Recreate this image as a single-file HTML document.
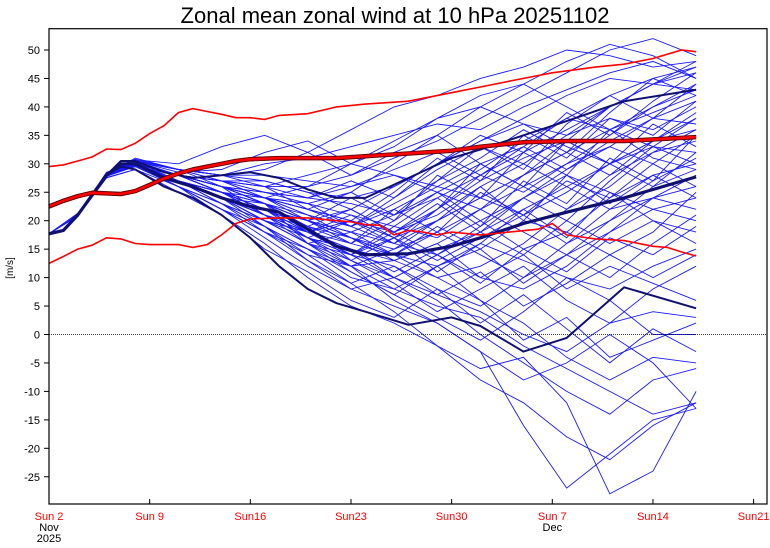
<!DOCTYPE html>
<html><head><meta charset="utf-8"><style>
body{margin:0;background:#fff;}
svg{display:block;font-family:"Liberation Sans",sans-serif;}
</style></head><body>
<svg id="chart" width="770" height="548">
<text x="395" y="23" text-anchor="middle" font-size="22" fill="#000">Zonal mean zonal wind at 10 hPa 20251102</text>
<text transform="translate(13,268) rotate(-90)" text-anchor="middle" font-size="10">[m/s]</text>
<g id="yaxis"></g>
<g id="xaxis"></g>
<g id="members"></g>
<g id="darks"></g>
<g id="reds"></g>
<rect x="49" y="28.7" width="718" height="475.3" fill="none" stroke="#000" stroke-width="1.2"/>
</svg>
<script>
const yTicks=[-25,-20,-15,-10,-5,0,5,10,15,20,25,30,35,40,45,50];
const xTickDays=[0,7,14,21,28,35,42,49];
const xTickLabels=["Sun 2","Sun 9","Sun16","Sun23","Sun30","Sun 7","Sun14","Sun21"];
const xSubLabels=[["Nov","2025"],[],[],[],[],["Dec"],[],[]];
const memberDays=[0,2,4,6,9,12,15,18,21,24,27,30,33,36,39,42,45];
const members=[
[17.7,21,28,30.5,28,26,24,22,20,18,22,28,33,38,42,45,47],
[17.7,21,28.5,30,27,24,20,16,12,8,5,3,-2,-6,-10,-14,-12],
[17.7,21.3,28,29.5,28,27,27,25,24,26,30,34,37,35,40,44,48],
[17.7,20.8,27.5,29,26,22,17,12,8,5,2,-3,-8,-5,0,-5,-13],
[17.7,21,28,30,27,25,23,20,17,15,18,22,26,30,33,30,35],
[17.7,21,28.2,31,29,28,30,31,33,35,37,36,40,43,46,48,45],
[17.7,21,27.8,30,26,22,19,15,10,8,12,16,13,10,8,12,15],
[17.7,21.2,28,29.8,27,24,21,18,14,10,6,0,-5,-10,-14,-8,-6],
[17.7,21,28,30.2,28,26,25,24,26,28,25,20,15,18,24,28,30],
[17.7,21,27.6,29,25,21,16,10,5,2,-2,-8,-12,-18,-22,-16,-12],
[17.7,21,28.3,30.5,28.5,29,32,34,30,33,38,42,44,40,36,39,42],
[17.7,21,28,30,27,23,18,14,12,13,16,20,24,28,25,22,20],
[17.7,21,28,29.5,27,24,20,16,13,9,4,8,12,6,2,4,3],
[17.7,21,28.2,30.6,29,27,24,21,19,24,29,33,30,26,22,24,28],
[17.7,21,27.8,29.5,26,23,19,15,12,15,20,26,30,35,38,36,40],
[17.7,21,28,30.2,28,25,22,18,14,12,8,5,10,16,20,24,22],
[17.7,21,28.1,30,28,27,26,26,28,32,35,30,26,22,26,32,36],
[17.7,21,28,29.8,27,24,21,17,12,6,2,-3,-16,-27,-21,-15,-13],
[17.7,21,28,30,27,23,19,14,9,4,-2,-6,-4,-12,-28,-24,-10],
[17.7,21,28.4,30.8,29,28,29,32,36,40,42,45,47,50,49,47,48],
[17.7,21,28,30,27,25,24,26,30,34,38,40,37,33,30,34,38],
[17.7,21,28,29.6,26,22,18,13,8,10,14,18,22,26,30,34,36],
[17.7,21,28.2,30.4,28,26,23,20,22,26,30,34,38,42,45,44,46],
[17.7,21,27.9,29.7,27,24,22,19,16,20,25,22,18,14,18,24,26],
[17.7,21,28,30,28,27,25,23,21,19,17,22,28,34,40,44,43],
[17.7,21,28,30.1,27,24,20,16,11,7,3,-1,4,10,6,0,0],
[17.7,21,28.2,30.3,28,26,24,23,25,30,35,40,44,48,51,49,45],
[17.7,21,28,29.9,27,25,22,19,17,14,12,15,20,18,14,10,14],
[17.7,21,28,30.2,28,25,21,17,14,17,22,27,31,34,30,26,32],
[17.7,21,28.1,30.5,29,28,27,25,22,18,14,10,8,12,18,22,24],
[17.7,21,28,29.8,27,25,23,21,19,22,26,30,33,29,33,38,41],
[17.7,21,28,30,27,24,21,18,15,13,10,6,2,-4,-8,-4,-5],
[17.7,21,28.3,30.7,30,33,35,32,28,31,34,38,42,46,50,52,49],
[17.7,21,28,30,28,26,24,22,20,17,20,24,21,25,30,33,32],
[17.7,21,28,29.7,26,23,20,18,16,14,18,14,10,14,20,26,29],
[17.7,21,28.2,30.2,28,26,25,24,23,21,25,29,34,38,36,40,44],
[17.7,21,28,30,27,25,22,20,18,16,14,19,24,29,34,38,37],
[17.7,21,28,30.3,28,26,23,20,17,14,10,12,16,22,28,32,34],
[17.7,21,28.1,30,28,27,26,28,30,28,26,24,28,32,36,33,38],
[17.7,21,28,29.9,27,24,21,17,13,10,7,4,0,-3,2,8,12],
[17.7,21,28.2,30.5,29,28,28,27,26,29,32,28,25,30,35,40,43],
[17.7,21,28,30,28,26,23,20,18,21,24,28,32,36,40,44,47],
[17.7,21,28,29.8,27,25,22,18,15,11,15,18,14,20,16,20,18],
[17.7,21,28.1,30.2,28,26,24,22,19,16,20,24,28,32,28,34,39],
[17.7,21,28,30.4,27,24,19,13,9,12,7,11,5,9,14,18,25],
[17.7,21,28.2,30.1,28,25,23,16,14,19,24,19,27,23,31,27,35],
[17.7,21,28,29.6,26,21,15,11,6,3,8,2,7,1,-5,1,-3],
[17.7,21,28.1,30.3,28,27,24,20,24,20,28,24,32,28,36,31,29],
[17.7,21,27.9,29.8,27,23,20,17,20,16,22,30,26,34,30,37,33],
[17.7,21,28,30,28,26,21,19,13,17,11,16,22,17,25,20,16],
[17.7,21,28.2,30.5,29,27,26,22,25,21,27,33,29,37,42,38,44],
[17.7,21,28,29.7,26,22,18,15,11,7,12,6,-1,3,-4,-1,2],
[17.7,21,28.1,30.2,28,25,22,20,16,22,18,25,21,27,24,30,26],
[17.7,21,28,30,27,24,23,18,20,25,31,27,35,31,38,35,41],
[17.7,21,28.2,30.4,29,26,24,21,17,13,16,10,14,8,12,9,6],
[17.7,21,28,29.9,27,24,20,18,14,18,23,18,24,20,27,33,30],
[17.7,21,28.1,30.1,28,26,23,19,22,18,21,26,20,28,23,28,24],
[17.7,21,28,30.3,28,25,22,17,15,10,14,9,15,11,17,14,19],
[17.7,21,28.2,30.6,29,28,26,24,27,24,30,35,32,39,35,41,46],
[17.7,21,28,29.8,27,24,21,16,18,14,19,15,9,14,10,16,21],
[17.7,21,28.1,30,28,26,24,23,19,23,27,31,36,32,39,45,42],
[17.7,21,28,30.2,28,25,21,18,21,17,13,17,21,16,22,27,31]
];
const statDays=[0,1,2,3,4,5,6,7,8,10,12,14,16,18,20,22,25,28,30,33,36,40,45];
const meanVals=[17.7,18.3,21,24.5,28,30,30,28.8,27.5,26,24,22.5,21.5,18.5,15.5,14,14.2,15.5,17,19.5,21.5,24,27.7];
const upperVals=[17.7,18.3,21,24.5,28,30.5,30.5,29.5,28.5,27.5,28,28.5,27.5,25.5,24,24,27.5,31,32.5,35,37.5,41,43];
const lowerVals=[17.7,18.3,21,24.5,28,29.5,29,27.5,26,24,21,17,12,8,5.5,4,1.7,3,1.5,-3,-0.6,8.3,4.6];
const climMaxDays=[0,1,2,3,4,5,6,7,8,9,10,11,12,13,14,15,16,18,20,22,25,28,30,33,35,38,40,42,44,45];
const climMaxVals=[29.5,29.8,30.5,31.2,32.6,32.5,33.6,35.3,36.7,39,39.7,39.2,38.7,38.1,38.1,37.8,38.5,38.8,40,40.5,41,42.5,43.5,45,46,47,47.5,48.5,50,49.7];
const climMeanDays=[0,1,2,3,4,5,6,7,8,9,10,11,12,13,14,16,20,23,28,30,33,36,40,45];
const climMeanVals=[22.5,23.5,24.3,24.9,24.8,24.7,25.2,26.3,27.4,28.3,29,29.5,30,30.5,30.8,31,31,31.5,32.3,33,33.8,34,34,34.7];
const climMinDays=[0,1,2,3,4,5,6,7,8,9,10,11,12,13,14,16,18,20,21,22,23,24,25,26,27,28,30,32,34,35,36,38,40,42,43,44,45];
const climMinVals=[12.5,13.7,15,15.7,17,16.8,16,15.8,15.8,15.8,15.3,15.8,17.5,19.5,20.3,20.5,20.5,20,19.8,19.3,19.2,17.5,18.3,18,17.5,18,17.5,18,18.5,19.5,17.5,16.8,16.5,15.5,15.3,14.5,13.8,14.5];

const NS="http://www.w3.org/2000/svg";
const X0=49,X1=767,Y0=28.7,Y1=504;
const xs=d=>X0+d*14.38;
const ys=v=>334.5-v*5.69;
function mk(tag,attrs,parent){const e=document.createElementNS(NS,tag);for(const k in attrs)e.setAttribute(k,attrs[k]);parent.appendChild(e);return e;}
const yg=document.getElementById('yaxis');
yTicks.forEach(t=>{
  const l=mk('line',{x1:44,x2:X0,y1:ys(t),y2:ys(t),stroke:'#000'},yg);
  
  
  const tx=mk('text',{x:40,y:ys(t)+4,'text-anchor':'end','font-size':11,fill:'#000'},yg);
  tx.textContent=t;
  
  
});
const xg=document.getElementById('xaxis');
xTickDays.forEach((d,i)=>{
  const l=mk('line',{x1:xs(d),x2:xs(d),y1:Y1,y2:Y1-5,stroke:'#000'},xg);
  
  
  const tx=mk('text',{x:xs(d),y:520,'text-anchor':'middle','font-size':11,fill:'#ff0000'},xg);
  tx.textContent=xTickLabels[i];
  
  
  xSubLabels[i].forEach((s,j)=>{
    const st=mk('text',{x:xs(d),y:531+j*11,'text-anchor':'middle','font-size':11,fill:'#000'},xg);
    st.textContent=s;
    
    
  });
});
const zl=mk('line',{x1:X0,x2:X1,y1:ys(0),y2:ys(0),stroke:'#000','stroke-width':0.8,'stroke-dasharray':'1,1'},document.getElementById('chart'));


function pts(days,vals){return days.map((d,i)=>xs(d).toFixed(1)+','+ys(vals[i]).toFixed(1)).join(' ');}
const mg=document.getElementById('members');
members.forEach(m=>{
  const p=mk('polyline',{points:pts(memberDays,m),fill:'none',stroke:'#1a1aff','stroke-width':0.9},mg);
  
  
});
const dg=document.getElementById('darks');
[[upperVals,2,'upper-percentile-line'],[lowerVals,2,'lower-percentile-line'],[meanVals,3.2,'ensemble-mean-line']].forEach(a=>{
  const p=mk('polyline',{points:pts(statDays,a[0]),fill:'none',stroke:'#101070','stroke-width':a[1],'stroke-linejoin':'round'},dg);
  
  
});
const rg=document.getElementById('reds');
[[climMaxDays,climMaxVals,1.6,'climatology-max-line'],[climMinDays,climMinVals,1.6,'climatology-min-line']].forEach(a=>{
  const p=mk('polyline',{points:pts(a[0],a[1]),fill:'none',stroke:'#ff0000','stroke-width':a[2]},rg);
  
  
});
const cm1=mk('polyline',{points:pts(climMeanDays,climMeanVals),fill:'none',stroke:'#600000','stroke-width':4.5,'stroke-linejoin':'round'},rg);


const cm=mk('polyline',{points:pts(climMeanDays,climMeanVals),fill:'none',stroke:'#ff0000','stroke-width':2.6,'stroke-linejoin':'round'},rg);


</script>
</body></html>
